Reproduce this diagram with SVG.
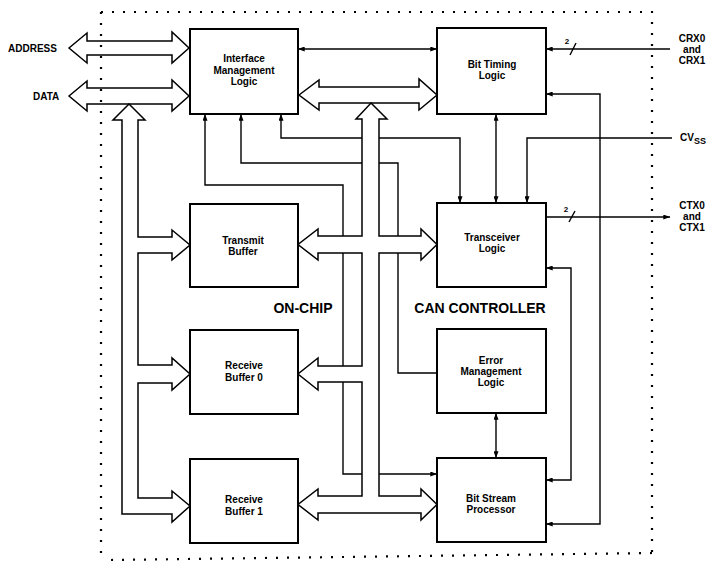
<svg xmlns="http://www.w3.org/2000/svg" width="711" height="563" viewBox="0 0 711 563">
<style>
.bg{fill:#fff}
.box{fill:#fff;stroke:#000;stroke-width:2}
.ln{fill:none;stroke:#000;stroke-width:1.4}
.bus{fill:#fff;stroke:#000;stroke-width:1.5;stroke-linejoin:miter}
.dot{fill:none;stroke:#000;stroke-width:2.2;stroke-dasharray:2 9}
.t{font-family:"Liberation Sans",Arial,sans-serif;font-weight:bold;font-size:10px;text-anchor:middle;fill:#000}
.big{font-family:"Liberation Sans",Arial,sans-serif;font-weight:bold;font-size:14px;text-anchor:middle;fill:#000}
.pin{font-family:"Liberation Sans",Arial,sans-serif;font-weight:bold;font-size:10px;fill:#000}
.sm{font-family:"Liberation Sans",Arial,sans-serif;font-weight:bold;font-size:8px;text-anchor:middle;fill:#000}
</style>
<defs>
<marker id="ah" viewBox="0 0 8 6" refX="8" refY="3" markerWidth="7" markerHeight="5" orient="auto-start-reverse" markerUnits="userSpaceOnUse"><path d="M0,0L8,3L0,6z" fill="#000"/></marker>
</defs>
<rect class="bg" x="0" y="0" width="711" height="563"/>

<g id="connectors">
  <!-- signal lines -->
  <path class="ln" d="M298,49H437" marker-start="url(#ah)" marker-end="url(#ah)"/>
  <path class="ln" d="M437,474H343V185H205V114" marker-start="url(#ah)" marker-end="url(#ah)"/>
  <path class="ln" d="M437,373H398V163H241V114" marker-end="url(#ah)"/>
  <path class="ln" d="M281,114V138H460V203" marker-start="url(#ah)" marker-end="url(#ah)"/>
  <path class="ln" d="M496,114V203" marker-start="url(#ah)" marker-end="url(#ah)"/>
  <path class="ln" d="M672,138H527V203" marker-end="url(#ah)"/>
  <path class="ln" d="M670,49H546" marker-end="url(#ah)"/>
  <path class="ln" d="M546,217H670" marker-end="url(#ah)"/>
  <path class="ln" d="M546,524H600V94H546" marker-start="url(#ah)" marker-end="url(#ah)"/>
  <path class="ln" d="M546,480H571V268H546" marker-start="url(#ah)" marker-end="url(#ah)"/>
  <path class="ln" d="M496,413V458" marker-start="url(#ah)" marker-end="url(#ah)"/>
  <!-- bus width marks -->
  <path class="ln" d="M570,55L576,43"/>
  <text class="sm" x="567" y="44">2</text>
  <path class="ln" d="M569,222L575,211"/>
  <text class="sm" x="566" y="212">2</text>
  <!-- buses -->
  <path class="bus" d="M69,48L87,33V41H172V32L189,48L172,63V55H87V63Z"/>
  <path class="bus" d="M69,96L87,81V88H172V80L189,96L172,111V104H87V111Z"/>
  <path class="bus" d="M129,104L145,120H138V237H172V230L190,245L172,260V253H138V365H172V358L190,374L172,390V383H138V498H172V491L190,506L172,522V514H122V120H113Z"/>
  <path class="bus" d="M299,95L319,80V87H419V79L437,95L419,110V103H319V110Z"/>
  <path class="bus" d="M371,103L387,119H379V236H421V229L437,244.5L421,260V253H379V496H421V489L437,504.5L421,520V513H318V520L298,504.5L318,489V496H362V382H318V390L298,374L318,358V366H362V253H318V260L298,244.5L318,229V236H362V119H356Z"/>
</g>

<g id="iml"><rect class="box" x="190" y="29" width="108" height="85"/>
<text class="t" x="244" y="61.5">Interface</text><text class="t" x="244" y="73.5">Management</text><text class="t" x="244" y="84.5">Logic</text></g>
<g id="btl"><rect class="box" x="437" y="28" width="109" height="86"/>
<text class="t" x="492" y="67.5">Bit Timing</text><text class="t" x="492" y="78.5">Logic</text></g>
<g id="tb"><rect class="box" x="190" y="204" width="108" height="83"/>
<text class="t" x="243" y="243.5">Transmit</text><text class="t" x="243" y="254.5">Buffer</text></g>
<g id="rb0"><rect class="box" x="190" y="330" width="108" height="84"/>
<text class="t" x="244" y="368.5">Receive</text><text class="t" x="244" y="380.5">Buffer 0</text></g>
<g id="rb1"><rect class="box" x="190" y="459" width="108" height="84"/>
<text class="t" x="244" y="502.5">Receive</text><text class="t" x="244" y="514.5">Buffer 1</text></g>
<g id="trl"><rect class="box" x="437" y="203" width="109" height="84"/>
<text class="t" x="492" y="240.5">Transceiver</text><text class="t" x="492" y="251.5">Logic</text></g>
<g id="eml"><rect class="box" x="437" y="329" width="109" height="84"/>
<text class="t" x="491" y="363.5">Error</text><text class="t" x="491" y="374.5">Management</text><text class="t" x="491" y="385.5">Logic</text></g>
<g id="bsp"><rect class="box" x="437" y="458" width="109" height="84"/>
<text class="t" x="491" y="501.5">Bit Stream</text><text class="t" x="491" y="512.5">Processor</text></g>

<g id="labels">
<text class="big" x="303" y="313">ON-CHIP</text>
<text class="big" x="480" y="313">CAN CONTROLLER</text>
<text class="pin" x="8" y="52">ADDRESS</text>
<text class="pin" x="33" y="100">DATA</text>
<text class="t" x="692" y="42">CRX0</text><text class="t" x="692" y="53">and</text><text class="t" x="692" y="64">CRX1</text>
<text class="pin" x="680" y="141">CV<tspan font-size="9" dy="3">SS</tspan></text>
<text class="t" x="692" y="209">CTX0</text><text class="t" x="692" y="220">and</text><text class="t" x="692" y="231">CTX1</text>
</g>

<g id="boundary">
<path class="dot" d="M101,12H652V553"/>
<path class="dot" d="M101,12V560"/>
<path class="dot" d="M652,553L110,560"/>
</g>
</svg>
